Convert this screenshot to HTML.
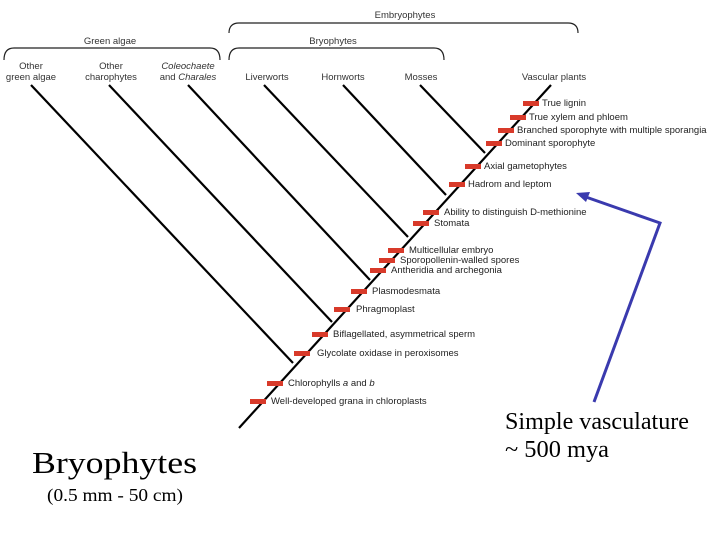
<!DOCTYPE html>
<html><head><meta charset="utf-8"><style>
html,body{margin:0;padding:0;background:#fff;}
svg{display:block;}
.s{font-family:"Liberation Sans",sans-serif;font-size:9.5px;fill:#222;}
.h{font-family:"Liberation Sans",sans-serif;font-size:9.5px;fill:#333;text-anchor:middle;}
.t{font-family:"Liberation Serif",serif;fill:#000;}
</style></head><body>
<svg width="720" height="540" viewBox="0 0 720 540" xmlns="http://www.w3.org/2000/svg">
<g fill="none" stroke="#222" stroke-width="1.2">
<path d="M229,33 Q229,23 239,23 L568,23 Q578,23 578,33"/>
<path d="M4,60 Q4,48 14,48 L210,48 Q220,48 220,60"/>
<path d="M229,60 Q229,48 239,48 L434,48 Q444,48 444,60"/>
</g>
<text class="h" x="405" y="18">Embryophytes</text>
<text class="h" x="110" y="44">Green algae</text>
<text class="h" x="333" y="44">Bryophytes</text>
<g class="h">
<text x="31" y="69">Other</text><text x="31" y="80">green algae</text>
<text x="111" y="69">Other</text><text x="111" y="80">charophytes</text>
<text x="188" y="69" font-style="italic">Coleochaete</text><text x="188" y="80">and <tspan font-style="italic">Charales</tspan></text>
<text x="267" y="80">Liverworts</text>
<text x="343" y="80">Hornworts</text>
<text x="421" y="80">Mosses</text>
<text x="554" y="80">Vascular plants</text>
</g>
<g stroke="#000" stroke-width="2.2" fill="none">
<line x1="239" y1="428" x2="551" y2="85"/>
<line x1="31" y1="85" x2="293" y2="363"/>
<line x1="109" y1="85" x2="332" y2="322"/>
<line x1="188" y1="85" x2="370" y2="280"/>
<line x1="264" y1="85" x2="408" y2="237"/>
<line x1="343" y1="85" x2="446" y2="195"/>
<line x1="420" y1="85" x2="485" y2="153"/>
</g>
<g fill="#d83a2a">
<rect x="523" y="101" width="16" height="5"/>
<rect x="510" y="115" width="16" height="5"/>
<rect x="498" y="128" width="16" height="5"/>
<rect x="486" y="141" width="16" height="5"/>
<rect x="465" y="164" width="16" height="5"/>
<rect x="449" y="182" width="16" height="5"/>
<rect x="423" y="210" width="16" height="5"/>
<rect x="413" y="221" width="16" height="5"/>
<rect x="388" y="248" width="16" height="5"/>
<rect x="379" y="258" width="16" height="5"/>
<rect x="370" y="268" width="16" height="5"/>
<rect x="351" y="289" width="16" height="5"/>
<rect x="334" y="307" width="16" height="5"/>
<rect x="312" y="332" width="16" height="5"/>
<rect x="294" y="351" width="16" height="5"/>
<rect x="267" y="381" width="16" height="5"/>
<rect x="250" y="399" width="16" height="5"/>
</g>
<g class="s">
<text x="542" y="106">True lignin</text>
<text x="529" y="120">True xylem and phloem</text>
<text x="517" y="133">Branched sporophyte with multiple sporangia</text>
<text x="505" y="146">Dominant sporophyte</text>
<text x="484" y="169">Axial gametophytes</text>
<text x="468" y="187">Hadrom and leptom</text>
<text x="444" y="215">Ability to distinguish D-methionine</text>
<text x="434" y="226">Stomata</text>
<text x="409" y="253">Multicellular embryo</text>
<text x="400" y="263">Sporopollenin-walled spores</text>
<text x="391" y="273">Antheridia and archegonia</text>
<text x="372" y="294">Plasmodesmata</text>
<text x="356" y="312">Phragmoplast</text>
<text x="333" y="337">Biflagellated, asymmetrical sperm</text>
<text x="317" y="356">Glycolate oxidase in peroxisomes</text>
<text x="288" y="386">Chlorophylls <tspan font-style="italic">a</tspan> and <tspan font-style="italic">b</tspan></text>
<text x="271" y="404">Well-developed grana in chloroplasts</text>
</g>
<g stroke="#3a3aae" stroke-width="3" fill="none">
<polyline points="594,402 660,223 583,196"/>
</g>
<polygon points="576,193 590,192 586,202" fill="#3a3aae"/>
<text class="t" x="32" y="473" font-size="31" textLength="165" lengthAdjust="spacingAndGlyphs">Bryophytes</text>
<text class="t" x="47" y="501" font-size="18" textLength="136" lengthAdjust="spacingAndGlyphs">(0.5 mm - 50 cm)</text>
<text class="t" x="505" y="429" font-size="24" textLength="184" lengthAdjust="spacingAndGlyphs">Simple vasculature</text>
<text class="t" x="505" y="457" font-size="24" textLength="104" lengthAdjust="spacingAndGlyphs">~ 500 mya</text>
</svg>
</body></html>
